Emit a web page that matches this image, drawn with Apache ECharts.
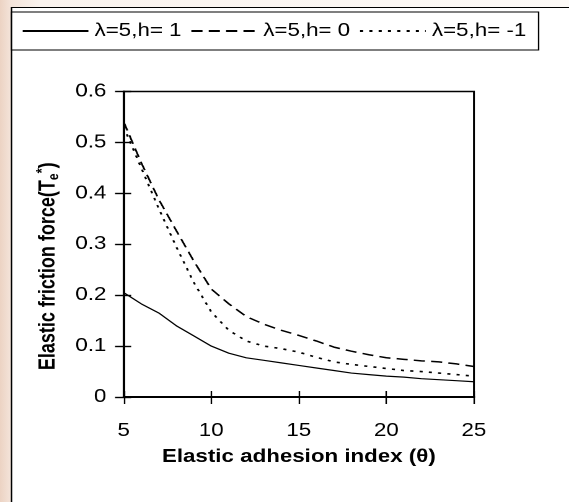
<!DOCTYPE html>
<html>
<head>
<meta charset="utf-8">
<script src="https://cdn.jsdelivr.net/npm/echarts@6/dist/echarts.min.js"></script>
<style>
  html, body { margin: 0; padding: 0; overflow: hidden; }
  body {
    width: 569px; height: 502px;
    background: linear-gradient(90deg, #ecd3c3 0px, #f4e4da 11px, #faf3ee 40px, #fdfaf7 569px);
  }
  /* the reference figure is stretched sideways, so the chart is drawn narrower and widened */
  #chart { width: 459px; height: 502px; transform: scaleX(1.2397); transform-origin: 0 0; }
</style>
</head>
<body>
<div id="chart"></div>
<script>
// elastic adhesion index (theta)
const theta = [5, 6, 7, 8, 9, 10, 11, 12, 13, 14, 15, 16, 17, 18, 19, 20, 21, 22, 23, 24, 25];
const seriesNames = ['λ=5,h= 1', 'λ=5,h= 0', 'λ=5,h= -1'];
const forceH1 = [0.205, 0.183, 0.165, 0.140, 0.120, 0.100, 0.086, 0.077, 0.072, 0.067, 0.062, 0.057, 0.052, 0.047, 0.044, 0.041, 0.039, 0.036, 0.034, 0.032, 0.030];
const forceH0 = [0.540, 0.460, 0.388, 0.327, 0.267, 0.212, 0.183, 0.158, 0.143, 0.131, 0.121, 0.110, 0.098, 0.090, 0.083, 0.077, 0.074, 0.071, 0.069, 0.065, 0.060];
const forceHm1 = [0.530, 0.450, 0.370, 0.295, 0.225, 0.167, 0.131, 0.110, 0.100, 0.095, 0.088, 0.078, 0.069, 0.064, 0.060, 0.056, 0.052, 0.050, 0.047, 0.044, 0.041];
const xTicks = { min: 5, max: 25, step: 5 };
const yTicks = { min: 0, max: 0.6, step: 0.1 };

const font = 'Liberation Sans, Arial, sans-serif';
const pair = (vals) => theta.map((t, i) => [t, vals[i]]);

const chart = echarts.init(document.getElementById('chart'), null, { devicePixelRatio: 2 });

const mkSeries = (name, vals, width, dash) => ({
    name: name,
    type: 'line',
    data: pair(vals),
    showSymbol: false,
    symbol: 'none',
    xAxisIndex: 0,
    yAxisIndex: 0,
    lineStyle: { color: '#000', width: width, type: dash }
});

const option = {
    animation: false,
    graphic: [{
        type: 'rect',
        shape: { x: 9.3, y: 7.5, width: 470, height: 500 },
        style: { fill: '#fff', stroke: '#000', lineWidth: 1.1 },
        z: -10
    }],
    legend: {
        left: 9.3,
        top: 12,
        padding: [10, 10, 10, 8],
        borderColor: '#000',
        borderWidth: 1.1,
        backgroundColor: '#fff',
        itemWidth: 53,
        itemHeight: 14,
        itemGap: 7,
        itemStyle: { opacity: 0, borderWidth: 0 },
        textStyle: { fontFamily: font, fontSize: 18, color: '#000' },
        data: seriesNames
    },
    grid: {
        left: 99.8,
        top: 91.5,
        right: 76.7,
        bottom: 105,
        show: true,
        borderColor: '#000',
        borderWidth: 1.5,
        backgroundColor: '#fff'
    },
    xAxis: [{
        type: 'value',
        min: xTicks.min,
        max: xTicks.max,
        interval: xTicks.step,
        name: 'Elastic adhesion index (θ)',
        nameLocation: 'middle',
        nameGap: 51,
        nameTextStyle: { fontFamily: font, fontSize: 18, fontWeight: 'bold', color: '#000' },
        axisLine: { show: true, lineStyle: { color: '#000', width: 2 } },
        axisTick: { show: true, length: 7, lineStyle: { color: '#000', width: 1.2 } },
        axisLabel: { fontFamily: font, fontSize: 18, color: '#000', margin: 25 },
        splitLine: { show: false }
    }, {
        type: 'value',
        position: 'bottom',
        min: xTicks.min,
        max: xTicks.max,
        interval: xTicks.step,
        axisLine: { show: false },
        axisTick: { show: true, inside: true, length: 6, lineStyle: { color: '#000', width: 1.2 } },
        axisLabel: { show: false },
        splitLine: { show: false }
    }],
    yAxis: [{
        type: 'value',
        min: yTicks.min,
        max: yTicks.max,
        interval: yTicks.step,
        name: '{b|Elastic friction force(T}{sub|e}{sup|*}{b|)}',
        nameLocation: 'middle',
        nameGap: 44,
        nameRotate: 90,
        nameTextStyle: {
            padding: [0, 44, 0, 0],
            rich: {
                b: { fontFamily: font, fontSize: 18, fontWeight: 'bold', color: '#000', lineHeight: 22 },
                sub: { fontFamily: font, fontSize: 12, fontWeight: 'bold', color: '#000', verticalAlign: 'bottom', lineHeight: 22, padding: [6, 0, 0, 0] },
                sup: { fontFamily: font, fontSize: 13, fontWeight: 'bold', color: '#000', verticalAlign: 'top', lineHeight: 22, padding: [0, 0, 6, 0] }
            }
        },
        axisLine: { show: true, lineStyle: { color: '#000', width: 2 } },
        axisTick: { show: true, length: 7, lineStyle: { color: '#000', width: 1.4 } },
        axisLabel: { fontFamily: font, fontSize: 18, color: '#000', margin: 14,
            formatter: (v) => (Math.round(v * 10) / 10).toString() },
        splitLine: { show: false }
    }, {
        type: 'value',
        position: 'left',
        min: yTicks.min,
        max: yTicks.max,
        interval: yTicks.step,
        axisLine: { show: false },
        axisTick: { show: true, inside: true, length: 6, lineStyle: { color: '#000', width: 1.4 } },
        axisLabel: { show: false },
        splitLine: { show: false }
    }],
    series: [
        mkSeries(seriesNames[0], forceH1, 1.2, 'solid'),
        mkSeries(seriesNames[1], forceH0, 1.5, [9, 5]),
        mkSeries(seriesNames[2], forceHm1, 1.6, [2.5, 5])
    ]
};

chart.setOption(option);
window.addEventListener('resize', () => chart.resize());
</script>
</body>
</html>
